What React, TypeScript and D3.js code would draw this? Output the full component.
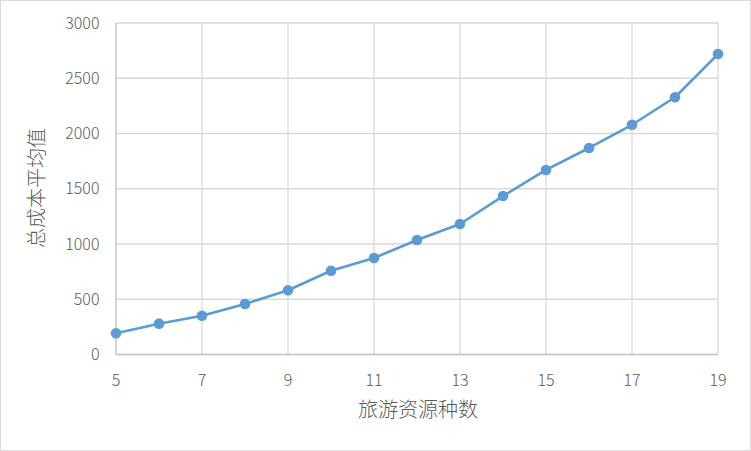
import React from "react";
import * as d3 from "d3";

const xValues = [5, 6, 7, 8, 9, 10, 11, 12, 13, 14, 15, 16, 17, 18, 19];
const yValues = [192, 279, 351, 457, 581, 758, 873, 1036, 1181, 1434, 1670, 1869, 2079, 2328, 2719];
const xTicks = [5, 7, 9, 11, 13, 15, 17, 19];
const yTicks = [0, 500, 1000, 1500, 2000, 2500, 3000];
const xTitle = "旅游资源种数";
const yTitle = "总成本平均值";

const W = 751;
const H = 451;
const left = 116;
const right = 718;
const top = 23;
const bottom = 354.5;

export default function App() {
  const x = d3.scaleLinear().domain([5, 19]).range([left, right]);
  const y = d3.scaleLinear().domain([0, 3000]).range([bottom, top]);
  const pts = xValues.map((v, i) => [v, yValues[i]] as [number, number]);
  const line = d3.line<[number, number]>().x((d) => x(d[0])).y((d) => y(d[1]));
  const font = "'Noto Sans CJK SC', 'Noto Sans', sans-serif";
  return (
    <svg width={W} height={H} style={{ position: "absolute", left: 0, top: 0, background: "#fff" }}>
      <rect x={0.5} y={0.5} width={W - 1} height={H - 1} fill="#fff" stroke="#d9d9d9" />
      {yTicks.filter((t) => t > 0).map((t) => (
        <line key={"h" + t} x1={left} x2={right} y1={y(t)} y2={y(t)} stroke="#d9d9d9" strokeWidth={1.3} />
      ))}
      {xTicks.filter((t) => t > 5).map((t) => (
        <line key={"v" + t} x1={x(t)} x2={x(t)} y1={top} y2={bottom} stroke="#d9d9d9" strokeWidth={1.3} />
      ))}
      <line x1={left} x2={left} y1={top} y2={bottom} stroke="#bfbfbf" strokeWidth={1.3} />
      <line x1={left} x2={right} y1={bottom} y2={bottom} stroke="#bfbfbf" strokeWidth={1.3} />
      {yTicks.map((t) => (
        <text key={"yl" + t} x={99.5} y={y(t)} dy="0.35em" textAnchor="end" fontSize={16} fontWeight={300} fill="#595959" fontFamily={font}>
          {t}
        </text>
      ))}
      {xTicks.map((t) => (
        <text key={"xl" + t} x={x(t)} y={380} dy="0.35em" textAnchor="middle" fontSize={16} fontWeight={300} fill="#595959" fontFamily={font}>
          {t}
        </text>
      ))}
      <text x={418} y={410} dy="0.35em" textAnchor="middle" fontSize={20} fontWeight={300} fill="#595959" fontFamily={font}>
        {xTitle}
      </text>
      <text
        transform={`translate(37, 188) rotate(-90)`}
        dy="0.35em"
        textAnchor="middle"
        fontSize={20}
        fontWeight={300}
        fill="#595959"
        fontFamily={font}
      >
        {yTitle}
      </text>
      <path d={line(pts) || ""} fill="none" stroke="#5b9bd5" strokeWidth={2.6} strokeLinejoin="round" />
      {pts.map((p, i) => (
        <circle key={i} cx={x(p[0])} cy={y(p[1])} r={5.3} fill="#5b9bd5" />
      ))}
    </svg>
  );
}
